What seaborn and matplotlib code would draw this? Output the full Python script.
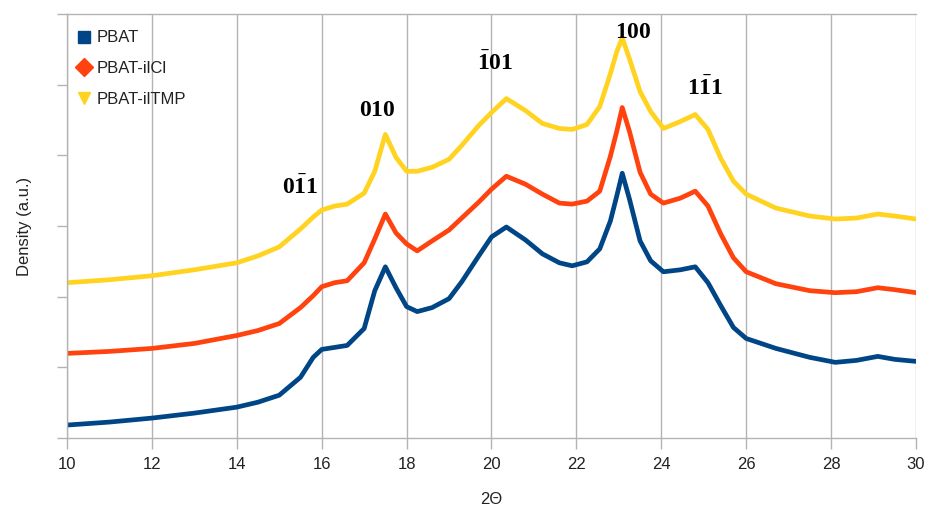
import numpy as np
import pandas as pd
import matplotlib
matplotlib.use("Agg")
import matplotlib.pyplot as plt
from matplotlib.lines import Line2D
import seaborn as sns

two_theta = [10, 11, 12, 13, 14, 14.5, 15, 15.5, 15.8, 16, 16.3, 16.6, 17.0, 17.25, 17.5,
             17.75, 18.0, 18.25, 18.6, 19.0, 19.3, 19.7, 20.0, 20.35, 20.8, 21.2, 21.6, 21.9,
             22.25, 22.55, 22.8, 22.95, 23.08, 23.25, 23.5, 23.75, 24.05, 24.45, 24.8, 25.1,
             25.4, 25.7, 26.0, 26.7, 27.5, 28.1, 28.6, 29.1, 29.5, 30.0]

pbat = [13, 16, 20, 25, 31, 36, 43, 61, 81, 89, 91, 93, 110, 148, 172,
        151, 132, 127, 131, 140, 157, 183, 202, 212, 199, 185, 176, 173,
        177, 190, 218, 243, 266, 240, 198, 178, 167, 169, 172, 156,
        133, 111, 100, 90, 81, 76, 78, 82, 79, 77]

pbat_ilcl = [85, 87, 90, 95, 103, 108, 115, 131, 143, 152, 156, 158, 176, 200, 225,
             206, 195, 188, 198, 209, 221, 237, 250, 263, 255, 245, 236, 235,
             238, 248, 283, 308, 332, 308, 267, 245, 236, 241, 248, 233,
             205, 181, 167, 155, 148, 146, 147, 151, 149, 146]

pbat_iltmp = [156, 159, 163, 169, 176, 183, 192, 210, 222, 229, 233, 235, 246, 268, 305,
              282, 268, 268, 272, 280, 294, 314, 327, 341, 329, 316, 311, 310,
              315, 333, 366, 388, 402, 381, 348, 328, 311, 318, 325, 310,
              281, 258, 245, 231, 223, 220, 221, 225, 223, 220]

series_names = ["PBAT", "PBAT-ilCl", "PBAT-ilTMP"]
series_colors = ["#004586", "#ff420e", "#ffd320"]
series_markers = ["s", "D", "v"]

peak_labels = [r"$\mathbf{0\bar{1}1}$", r"$\mathbf{010}$", r"$\mathbf{\bar{1}01}$",
               r"$\mathbf{100}$", r"$\mathbf{1\bar{1}1}$"]
peak_x = [15.49, 17.30, 20.08, 23.35, 25.03]
peak_y = [252, 330, 376, 408, 351]

x_ticks = [10, 12, 14, 16, 18, 20, 22, 24, 26, 28, 30]

df = pd.DataFrame({
    "2θ": two_theta * 3,
    "Density": pbat + pbat_ilcl + pbat_iltmp,
    "Sample": sum([[n] * len(two_theta) for n in series_names], []),
})

sns.set_theme(style="white")
plt.rcParams["font.family"] = ["Liberation Sans", "DejaVu Sans"]
plt.rcParams["mathtext.fontset"] = "custom"
plt.rcParams["mathtext.rm"] = "Liberation Serif"
plt.rcParams["mathtext.bf"] = "Liberation Serif:bold"

fig = plt.figure(figsize=(9.28, 5.11), dpi=100)
ax = fig.add_axes([67 / 928, 73 / 511, 849 / 928, 424 / 511])

sns.lineplot(data=df, x="2θ", y="Density", hue="Sample", palette=series_colors,
             hue_order=series_names, linewidth=3.4, ax=ax, legend=False, sort=False)

ax.set_xlim(10, 30)
ax.set_ylim(0, 426)
ax.set_xticks(x_ticks)
ax.set_xticklabels([str(t) for t in x_ticks])
ax.set_yticks(np.arange(0, 427, 71))
ax.set_yticklabels([])
ax.xaxis.grid(True, color="#b3b3b3", linewidth=1.0)
ax.yaxis.grid(False)
ax.set_axisbelow(True)

for side in ["left", "bottom", "top"]:
    ax.spines[side].set_visible(True)
    ax.spines[side].set_color("#b3b3b3")
    ax.spines[side].set_linewidth(1.0)
ax.spines["right"].set_visible(False)

ax.tick_params(axis="both", which="major", direction="out", length=8, width=1.0,
               color="#b3b3b3", labelsize=12, labelcolor="#222222", pad=6)
ax.tick_params(axis="y", length=7, left=True)
ax.tick_params(axis="x", bottom=True)

ax.set_xlabel("2Θ", fontsize=12, color="#222222", labelpad=14)
ax.set_ylabel("Density (a.u.)", fontsize=12, color="#222222", labelpad=12)

for lab, px, py in zip(peak_labels, peak_x, peak_y):
    ax.text(px, py, lab, ha="center", va="center", fontsize=17, color="black")

handles = [Line2D([0], [0], linestyle="none", marker=m, color=c, markersize=9)
           for m, c in zip(series_markers, series_colors)]
leg = ax.legend(handles, series_names, loc="upper left", bbox_to_anchor=(0.0, 0.985),
                frameon=False, fontsize=12, handlelength=0.8, handletextpad=0.4,
                labelspacing=0.95, borderaxespad=0.2)
for t in leg.get_texts():
    t.set_color("#222222")

fig.savefig("out.png", dpi=100)
